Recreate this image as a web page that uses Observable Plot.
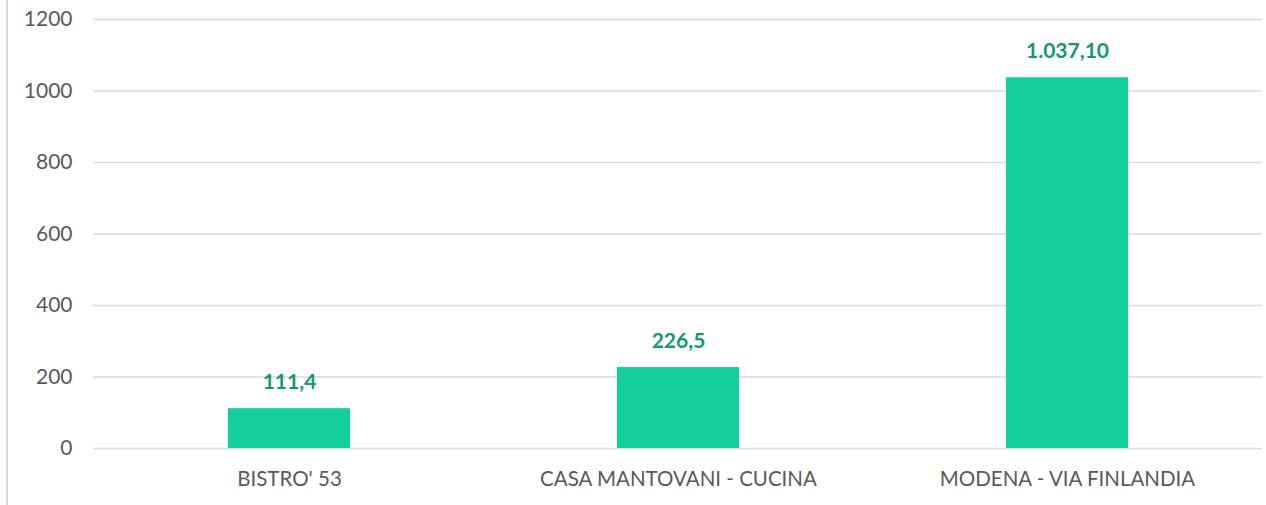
<!DOCTYPE html>
<html>
<head>
<meta charset="utf-8">
<script src="https://cdn.jsdelivr.net/npm/d3@7"></script>
<script src="https://cdn.jsdelivr.net/npm/@observablehq/plot@0.6"></script>
<style>
  html, body { margin: 0; padding: 0; background: #fff; }
  #wrap { position: relative; width: 1266px; height: 505px; overflow: hidden; }
  #wrap::before { content: ""; position: absolute; left: 6px; top: 0; width: 1.5px; height: 505px; background: #d9d9d9; }
  svg { display: block; }
</style>
</head>
<body>
<div id="wrap"></div>
<script>
const categories = ["BISTRO' 53", "CASA MANTOVANI - CUCINA", "MODENA - VIA FINLANDIA"];
const values = [111.4, 226.5, 1037.10];
const valueLabels = ["111,4", "226,5", "1.037,10"];
const yTicks = [0, 200, 400, 600, 800, 1000, 1200];

const data = categories.map((c, i) => ({ cat: c, value: values[i], label: valueLabels[i] }));

const chart = Plot.plot({
  width: 1266,
  height: 505,
  marginLeft: 93,
  marginRight: 4,
  marginTop: 19,
  marginBottom: 57,
  style: { fontFamily: "Lato, 'Open Sans', sans-serif", background: "transparent" },
  x: { domain: categories, paddingInner: 0.687, paddingOuter: 0.3435, label: null },
  y: { domain: [0, 1200], label: null },
  marks: [
    Plot.gridY(yTicks, { stroke: "#d9d9d9", strokeOpacity: 1, strokeWidth: 1.5 }),
    Plot.axisY(yTicks, { tickSize: 0, tickPadding: 21, fontSize: 21, fill: "#595959", label: null, tickFormat: d => String(d) }),
    Plot.axisX({ tickSize: 0, tickPadding: 23, fontSize: 20.5, fill: "#595959", label: null }),
    Plot.barY(data, { x: "cat", y: "value", fill: "#13CF9B" }),
    Plot.text(data, { x: "cat", y: "value", text: "label", dy: -26, fill: "#109A6E", fontSize: 21, fontWeight: "bold" })
  ]
});
document.getElementById("wrap").appendChild(chart);
</script>
</body>
</html>
